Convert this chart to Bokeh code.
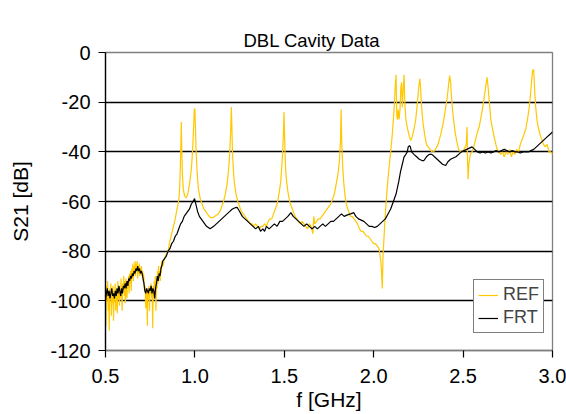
from bokeh.plotting import figure
from bokeh.models import Range1d, FixedTicker, Legend, LegendItem, Title
from bokeh.embed import file_html
from bokeh.resources import INLINE

# Measured transmission S21 vs frequency for the double cavity
ref_f = [
    0.500, 0.503, 0.506, 0.509, 0.512, 0.515, 0.518, 0.521, 0.524, 0.527,
    0.530, 0.533, 0.536, 0.539, 0.542, 0.545, 0.548, 0.551, 0.554, 0.557,
    0.560, 0.563, 0.566, 0.569, 0.572, 0.575, 0.578, 0.581, 0.584, 0.587,
    0.590, 0.593, 0.596, 0.599, 0.602, 0.605, 0.608, 0.611, 0.614, 0.617,
    0.620, 0.623, 0.626, 0.629, 0.632, 0.635, 0.638, 0.641, 0.644, 0.647,
    0.650, 0.653, 0.656, 0.659, 0.662, 0.665, 0.668, 0.671, 0.674, 0.677,
    0.680, 0.683, 0.686, 0.689, 0.692, 0.695, 0.698, 0.701, 0.704, 0.707,
    0.710, 0.713, 0.716, 0.719, 0.722, 0.725, 0.728, 0.731, 0.734, 0.737,
    0.740, 0.743, 0.746, 0.749, 0.752, 0.755, 0.758, 0.761, 0.764, 0.767,
    0.770, 0.773, 0.776, 0.779, 0.782, 0.785, 0.788, 0.791, 0.794, 0.797,
    0.800, 0.803, 0.806, 0.809, 0.812, 0.815, 0.820, 0.827, 0.835, 0.843,
    0.850, 0.860, 0.870, 0.880, 0.890, 0.900, 0.906, 0.912, 0.916, 0.919,
    0.922, 0.924, 0.927, 0.930, 0.935, 0.940, 0.945, 0.950, 0.955, 0.960,
    0.965, 0.970, 0.975, 0.980, 0.985, 0.990, 0.994, 0.997, 1.000, 1.003,
    1.006, 1.010, 1.015, 1.020, 1.030, 1.040, 1.050, 1.060, 1.070, 1.080,
    1.090, 1.100, 1.110, 1.120, 1.130, 1.140, 1.150, 1.160, 1.170, 1.180,
    1.190, 1.195, 1.200, 1.204, 1.207, 1.210, 1.215, 1.220, 1.230, 1.240,
    1.250, 1.260, 1.270, 1.280, 1.290, 1.300, 1.310, 1.320, 1.330, 1.340,
    1.350, 1.360, 1.370, 1.380, 1.390, 1.400, 1.410, 1.420, 1.430, 1.440,
    1.450, 1.460, 1.470, 1.480, 1.487, 1.492, 1.496, 1.498, 1.501, 1.505,
    1.510, 1.520, 1.530, 1.540, 1.550, 1.560, 1.570, 1.580, 1.590, 1.600,
    1.610, 1.620, 1.630, 1.640, 1.650, 1.660, 1.665, 1.670, 1.680, 1.690,
    1.700, 1.710, 1.720, 1.730, 1.740, 1.750, 1.760, 1.770, 1.780, 1.790,
    1.800, 1.808, 1.814, 1.818, 1.821, 1.826, 1.832, 1.840, 1.850, 1.860,
    1.870, 1.880, 1.890, 1.900, 1.910, 1.920, 1.930, 1.940, 1.950, 1.960,
    1.970, 1.980, 1.990, 2.000, 2.010, 2.020, 2.030, 2.040, 2.045, 2.048,
    2.052, 2.058, 2.065, 2.075, 2.085, 2.095, 2.105, 2.115, 2.120, 2.125,
    2.129, 2.133, 2.137, 2.142, 2.147, 2.152, 2.156, 2.160, 2.165, 2.170,
    2.174, 2.180, 2.190, 2.200, 2.207, 2.215, 2.225, 2.235, 2.245, 2.252,
    2.258, 2.262, 2.268, 2.275, 2.285, 2.295, 2.305, 2.315, 2.325, 2.335,
    2.345, 2.360, 2.375, 2.390, 2.403, 2.413, 2.420, 2.425, 2.430, 2.437,
    2.445, 2.455, 2.465, 2.475, 2.485, 2.495, 2.505, 2.512, 2.518, 2.522,
    2.525, 2.528, 2.532, 2.540, 2.550, 2.560, 2.570, 2.580, 2.590, 2.600,
    2.610, 2.620, 2.628, 2.634, 2.640, 2.648, 2.655, 2.665, 2.680, 2.690,
    2.700, 2.710, 2.720, 2.730, 2.740, 2.750, 2.760, 2.770, 2.780, 2.790,
    2.800, 2.810, 2.820, 2.830, 2.840, 2.850, 2.860, 2.870, 2.878, 2.885,
    2.890, 2.895, 2.900, 2.906, 2.913, 2.920, 2.930, 2.940, 2.950, 2.960,
    2.970, 2.980, 2.990, 3.000,
]
ref_db = [
    -98, -110, -94, -100, -92, -104, -96, -112, -95, -99,
    -93, -106, -97, -101, -94, -108, -96, -100, -93, -104,
    -97, -95, -105, -92, -99, -94, -102, -95, -99, -91,
    -97, -104, -93, -96, -90, -98, -92, -101, -91, -96,
    -99, -92, -95, -90, -97, -89, -93, -88, -96, -87,
    -91, -85, -92, -86, -89, -84, -90, -85, -88, -84,
    -91, -86, -89, -85, -90, -87, -88, -86, -90, -88,
    -92, -89, -93, -96, -94, -103, -97, -96, -110, -95,
    -98, -94, -104, -96, -97, -93, -99, -95, -111, -94,
    -97, -92, -99, -90, -104, -91, -95, -88, -93, -86,
    -91, -88, -92, -86, -89, -84, -86, -84, -82, -81,
    -80, -76, -73, -70, -67, -63, -61, -58, -52, -45,
    -36, -28, -40, -49, -55, -57, -58, -58.5, -58, -57,
    -55, -53, -50, -47, -42, -35, -28, -22.5, -23, -30,
    -38, -45, -51, -55, -59, -61, -63, -64, -65, -66,
    -66.5, -66.5, -66, -65.5, -65, -64, -62, -60, -57, -53,
    -46, -40, -32, -22, -30, -40, -47, -52, -57, -60,
    -62, -64, -65, -66, -67, -68, -69, -69, -70, -69,
    -70, -71, -70, -70, -69, -70, -68, -67, -67, -65,
    -63, -61, -57, -52, -45, -38, -30, -24, -32, -43,
    -50, -56, -60, -62, -64, -66, -67, -68, -69, -68,
    -69, -70, -71, -69, -70, -73, -66, -69, -68, -67,
    -67, -66, -65, -64, -63, -62, -61, -59, -57, -53,
    -49, -44, -36, -23, -35, -45, -52, -58, -62, -64,
    -66, -66, -67, -68, -69, -71, -72, -72, -73, -74,
    -74, -75, -76, -77, -77, -78, -79, -84, -90, -95,
    -82, -74, -65, -55, -47, -40, -32, -22, -14, -9,
    -25, -27, -23, -27, -23, -14, -12, -22, -15, -9,
    -20, -27, -31, -34, -35.5, -34, -31, -27, -20, -14,
    -10.5, -14, -22, -28, -33, -37, -38, -39, -40, -40,
    -39, -37, -33, -28, -22, -17, -12, -9.3, -12, -20,
    -26, -32, -36, -39, -40, -40, -39, -38, -37, -30,
    -44, -51, -45, -41, -40, -38, -35, -32, -30, -26,
    -22, -17, -13, -10, -14, -21, -27, -31, -36, -39,
    -40, -41, -40, -42, -40, -41, -39, -42, -40, -41,
    -39, -40, -37, -35, -33, -31, -27, -22, -16, -10,
    -7, -7, -15, -22, -27, -30, -33, -35, -37, -38,
    -37, -40, -40, -41,
]

frt_f = [
    0.500, 0.505, 0.510, 0.515, 0.520, 0.525, 0.530, 0.535, 0.540, 0.545,
    0.550, 0.555, 0.560, 0.565, 0.570, 0.575, 0.580, 0.585, 0.590, 0.595,
    0.600, 0.605, 0.610, 0.615, 0.620, 0.625, 0.630, 0.635, 0.640, 0.645,
    0.650, 0.655, 0.660, 0.665, 0.670, 0.675, 0.680, 0.685, 0.690, 0.695,
    0.700, 0.705, 0.710, 0.715, 0.720, 0.725, 0.730, 0.735, 0.740, 0.745,
    0.750, 0.755, 0.760, 0.765, 0.770, 0.775, 0.780, 0.785, 0.790, 0.795,
    0.800, 0.805, 0.810, 0.815, 0.820, 0.830, 0.840, 0.850, 0.860, 0.870,
    0.880, 0.890, 0.900, 0.910, 0.920, 0.930, 0.940, 0.950, 0.960, 0.970,
    0.980, 0.990, 0.998, 1.005, 1.015, 1.025, 1.035, 1.045, 1.055, 1.065,
    1.075, 1.085, 1.095, 1.105, 1.120, 1.135, 1.150, 1.165, 1.180, 1.195,
    1.210, 1.225, 1.237, 1.250, 1.265, 1.280, 1.295, 1.310, 1.325, 1.340,
    1.355, 1.367, 1.380, 1.390, 1.400, 1.415, 1.430, 1.445, 1.460, 1.475,
    1.490, 1.505, 1.520, 1.537, 1.550, 1.565, 1.580, 1.595, 1.610, 1.625,
    1.640, 1.655, 1.670, 1.685, 1.700, 1.715, 1.730, 1.745, 1.760, 1.775,
    1.790, 1.805, 1.820, 1.835, 1.850, 1.870, 1.889, 1.900, 1.915, 1.930,
    1.945, 1.960, 1.975, 1.990, 2.005, 2.020, 2.035, 2.050, 2.065, 2.080,
    2.095, 2.110, 2.125, 2.140, 2.150, 2.160, 2.170, 2.180, 2.188, 2.193,
    2.200, 2.205, 2.212, 2.225, 2.240, 2.255, 2.270, 2.281, 2.295, 2.310,
    2.325, 2.340, 2.355, 2.370, 2.385, 2.403, 2.415, 2.430, 2.445, 2.460,
    2.475, 2.490, 2.505, 2.520, 2.535, 2.550, 2.565, 2.580, 2.595, 2.610,
    2.625, 2.640, 2.655, 2.670, 2.685, 2.700, 2.715, 2.730, 2.745, 2.760,
    2.775, 2.790, 2.805, 2.820, 2.835, 2.850, 2.865, 2.880, 2.895, 2.910,
    2.925, 2.940, 2.955, 2.970, 2.985, 3.000,
]
frt_db = [
    -100, -97, -95, -98, -96, -99, -97, -95, -98, -97,
    -99, -96, -98, -95, -97, -94, -96, -98, -95, -97,
    -94, -95, -93, -95, -92, -94, -91, -92, -90, -91,
    -89, -90, -88, -89, -87, -88, -86, -88, -87, -89,
    -88, -89, -91, -93, -96, -97, -95, -96, -97, -95,
    -96, -94, -97, -95, -96, -99, -95, -93, -90, -92,
    -89, -90, -87, -86, -84, -83, -82, -80, -79, -77,
    -76, -74, -73, -71, -69, -68, -66, -65, -64, -63,
    -61, -60, -58.8, -61, -64, -66, -67, -68, -69, -70,
    -70.5, -71, -70.5, -70, -69, -68, -67, -66, -65, -64,
    -63, -62.5, -62.4, -64, -66, -67, -68, -69, -70, -71,
    -70, -72, -71, -72, -70, -71, -70, -69, -70, -68,
    -68, -67, -66, -64.5, -66, -67, -68, -69, -70, -69,
    -70, -71, -70, -71, -70, -69, -70, -69, -68, -68,
    -67, -66, -65, -66, -65.5, -65, -64.5, -66, -67, -67.5,
    -68, -69, -70, -70, -70.5, -70, -69, -68, -67, -65,
    -63, -60, -57, -52, -48, -45, -42, -41, -40, -38,
    -37.5, -38, -40, -41, -42, -43, -43.5, -43.5, -42, -41,
    -41, -42, -43, -44, -45, -45.5, -44, -43, -42.5, -42,
    -41, -40, -39.5, -39, -38.5, -38, -39, -40, -40.5, -40,
    -40.5, -40, -40.5, -40, -39.5, -40, -39.5, -39, -39.5, -40,
    -39.5, -40, -40, -40.5, -40, -40, -40, -39.5, -39, -38,
    -37, -36, -35, -34, -33, -32,
]

x_ticks = [0.5, 1.0, 1.5, 2.0, 2.5, 3.0]
x_tick_labels = ["0.5", "1.0", "1.5", "2.0", "2.5", "3.0"]
y_ticks = [-120, -100, -80, -60, -40, -20, 0]
y_tick_labels = ["-120", "-100", "-80", "-60", "-40", "-20", "0"]
grid_lines = [-100, -80, -60, -40, -20]

FONT = "Liberation Sans"

p = figure(
    width=566, height=414, title=None,
    output_backend="svg", toolbar_location=None,
    x_range=Range1d(0.5, 3.0), y_range=Range1d(-120, 0),
    min_border_left=105, min_border_right=14,
    min_border_top=52, min_border_bottom=64,
    background_fill_color="white", border_fill_color="white",
)

# invisible spacer panel next to the frame, then the chart title above it
p.add_layout(Title(text=".", text_font_size="1px", text_alpha=0.0,
                   standoff=19), "above")
p.add_layout(Title(
    text="DBL Cavity Data", align="left", offset=138, vertical_align="top",
    text_font=FONT, text_font_size="18.5px", text_font_style="normal",
    text_color="black", standoff=0,
), "above")

p.outline_line_color = "#808080"
p.outline_line_width = 1.3

# axes
p.xaxis.ticker = FixedTicker(ticks=x_ticks)
p.xaxis.major_label_overrides = dict(zip(x_ticks, x_tick_labels))
p.yaxis.ticker = FixedTicker(ticks=y_ticks)
p.yaxis.major_label_overrides = dict(zip(y_ticks, y_tick_labels))
for ax in (p.xaxis[0], p.yaxis[0]):
    ax.major_label_text_font = FONT
    ax.major_label_text_font_size = "20px"
    ax.major_label_text_color = "black"
    ax.axis_label_text_font = FONT
    ax.axis_label_text_font_size = "21px"
    ax.axis_label_text_font_style = "normal"
    ax.axis_label_text_color = "black"
    ax.major_tick_in = 0
    ax.major_tick_out = 7
    ax.minor_tick_line_color = None
    ax.major_tick_line_color = "black"
    ax.major_tick_line_width = 1.2

p.xaxis.axis_label = "f [GHz]"
p.xaxis.axis_line_color = "#808080"
p.xaxis.axis_line_width = 1.3
p.xaxis.major_label_standoff = 11
p.xaxis.axis_label_standoff = 2
p.yaxis.axis_label = "S21 [dB]"
p.yaxis.axis_line_color = "black"
p.yaxis.axis_line_width = 1.3
p.yaxis.major_label_standoff = 8
p.yaxis.axis_label_standoff = 15

p.xgrid.grid_line_color = None
p.ygrid.ticker = FixedTicker(ticks=grid_lines)
p.ygrid.grid_line_color = "black"
p.ygrid.grid_line_width = 1.3

r_ref = p.line(ref_f, ref_db, line_color="#FFC800", line_width=1.2)
r_frt = p.line(frt_f, frt_db, line_color="black", line_width=1.2)

legend = Legend(
    items=[LegendItem(label="REF", renderers=[r_ref]),
           LegendItem(label="FRT", renderers=[r_frt])],
    location=(368, 17),
    border_line_color="black", border_line_width=1,
    background_fill_color="white", background_fill_alpha=1.0,
    label_text_font=FONT, label_text_font_size="18px",
    glyph_width=20, glyph_height=18, label_standoff=5,
    padding=4, spacing=2, margin=0,
)
p.add_layout(legend)

open("out.html", "w").write(file_html(p, INLINE))
